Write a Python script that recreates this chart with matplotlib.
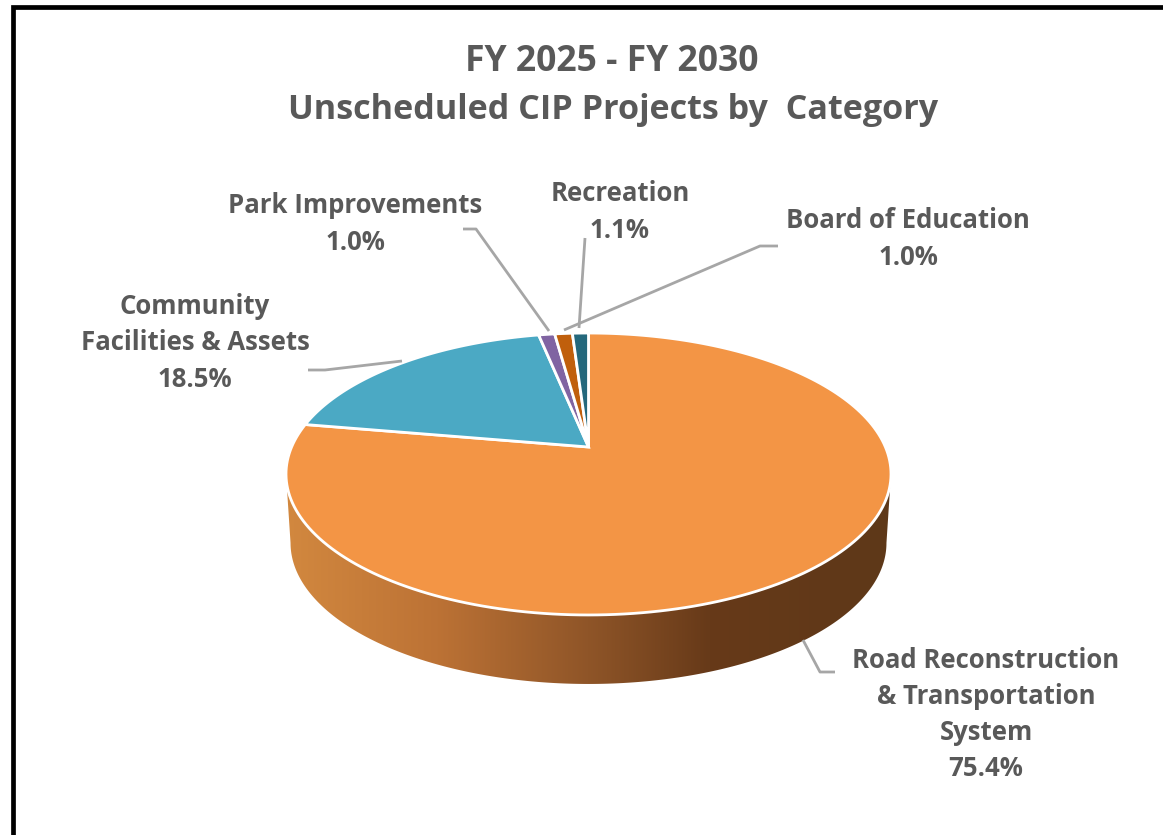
import numpy as np
import matplotlib
matplotlib.use('Agg')
import matplotlib.pyplot as plt
from matplotlib.colors import LinearSegmentedColormap
from matplotlib.patches import Polygon

categories = ['Road Reconstruction\n& Transportation\nSystem', 'Community\nFacilities & Assets',
              'Park Improvements', 'Recreation', 'Board of Education']
values = [75.4, 18.5, 1.0, 1.1, 1.0]
colors = ['#F39545', '#4BA9C4', '#8064A2', '#C05F0C', '#24687C']

GREY = '#595959'
LINE = '#A6A6A6'
FONT = 'Open Sans'

# pie geometry in pixels, the top face is a circle seen in perspective
APEX_X, APEX_Y = 588.5, 447
SCALE_X, SCALE_Y, PERSP = 296.9, 135.8, 0.1915
DEPTH = 69


def project(angle):
    """angle is clockwise from 12 o'clock, in radians"""
    u, v = np.sin(angle), np.cos(angle)
    w = 1 + PERSP * v
    return APEX_X + SCALE_X * u / w, APEX_Y - SCALE_Y * v / w


fig = plt.figure(figsize=(11.63, 8.35), dpi=100)
ax = fig.add_axes([0, 0, 1, 1])
ax.set_xlim(0, 1163)
ax.set_ylim(835, 0)
ax.axis('off')

# side wall, only the part below the widest points of the top face shows
t = np.radians(np.linspace(0, 360, 721))
edge_x, edge_y = project(t)
left = np.argmin(edge_x)
right = np.argmax(edge_x)
front_x, front_y = edge_x[right:left + 1], edge_y[right:left + 1]
back_x = APEX_X + (front_x - APEX_X) * 0.985
back_y = front_y + DEPTH
wall = Polygon(np.r_[np.c_[front_x, front_y], np.c_[back_x, back_y][::-1]], transform=ax.transData,
               facecolor='none', edgecolor='none')
ax.add_patch(wall)
wall_cmap = LinearSegmentedColormap.from_list('wall', [(0, '#D2883F'), (0.25, '#BC7235'), (0.5, '#8F5528'),
                                                       (0.7, '#673A19'), (1, '#5E3818')])
img = ax.imshow(np.linspace(0, 1, 256)[None, :], cmap=wall_cmap, aspect='auto',
                extent=(edge_x.min(), edge_x.max(), 700, 470), zorder=1)
img.set_clip_path(wall)
ax.set_xlim(0, 1163)
ax.set_ylim(835, 0)

# top face, slices go clockwise from 12 o'clock
shares = np.array(values) / sum(values)
ends = np.cumsum(shares) * 2 * np.pi
starts = ends - shares * 2 * np.pi
for a, b, c in zip(starts, ends, colors):
    arc_x, arc_y = project(np.linspace(a, b, 200))
    ax.fill(np.r_[APEX_X, arc_x], np.r_[APEX_Y, arc_y], facecolor=c, edgecolor='white', linewidth=2,
            joinstyle='miter', zorder=2)

# leader lines
leaders = [
    ([835, 820, 803], [672, 672, 640]),
    ([308, 325, 402], [370, 370, 361]),
    ([463, 476, 549], [229, 229, 331]),
    ([585, 579], [238, 328]),
    ([778, 760, 564], [246, 246, 330]),
]
for lx, ly in leaders:
    ax.plot(lx, ly, color=LINE, linewidth=2, zorder=3, solid_capstyle='butt')

# labels
label_pos = [(986, 714.5), (195, 343), (355, 224), (620, 212), (908, 239)]
for cat, val, (x, y) in zip(categories, values, label_pos):
    ax.text(x, y, f'{cat}\n{val:.1f}%', ha='center', va='center', fontsize=18.5, fontweight='bold',
            family=FONT, color=GREY, linespacing=1.43)

ax.text(612, 62, 'FY 2025 - FY 2030', ha='center', va='center', fontsize=25.6, fontweight='bold',
        family=FONT, color=GREY)
ax.text(613, 110, 'Unscheduled CIP Projects by  Category', ha='center', va='center', fontsize=24.6,
        fontweight='bold', family=FONT, color=GREY)

# black frame on the top and left side
ax.plot([12.5, 12.5, 1163], [835, 7, 7], color='black', linewidth=3.4, solid_joinstyle='miter', clip_on=False)

fig.savefig('out.png', dpi=100, facecolor='white')
